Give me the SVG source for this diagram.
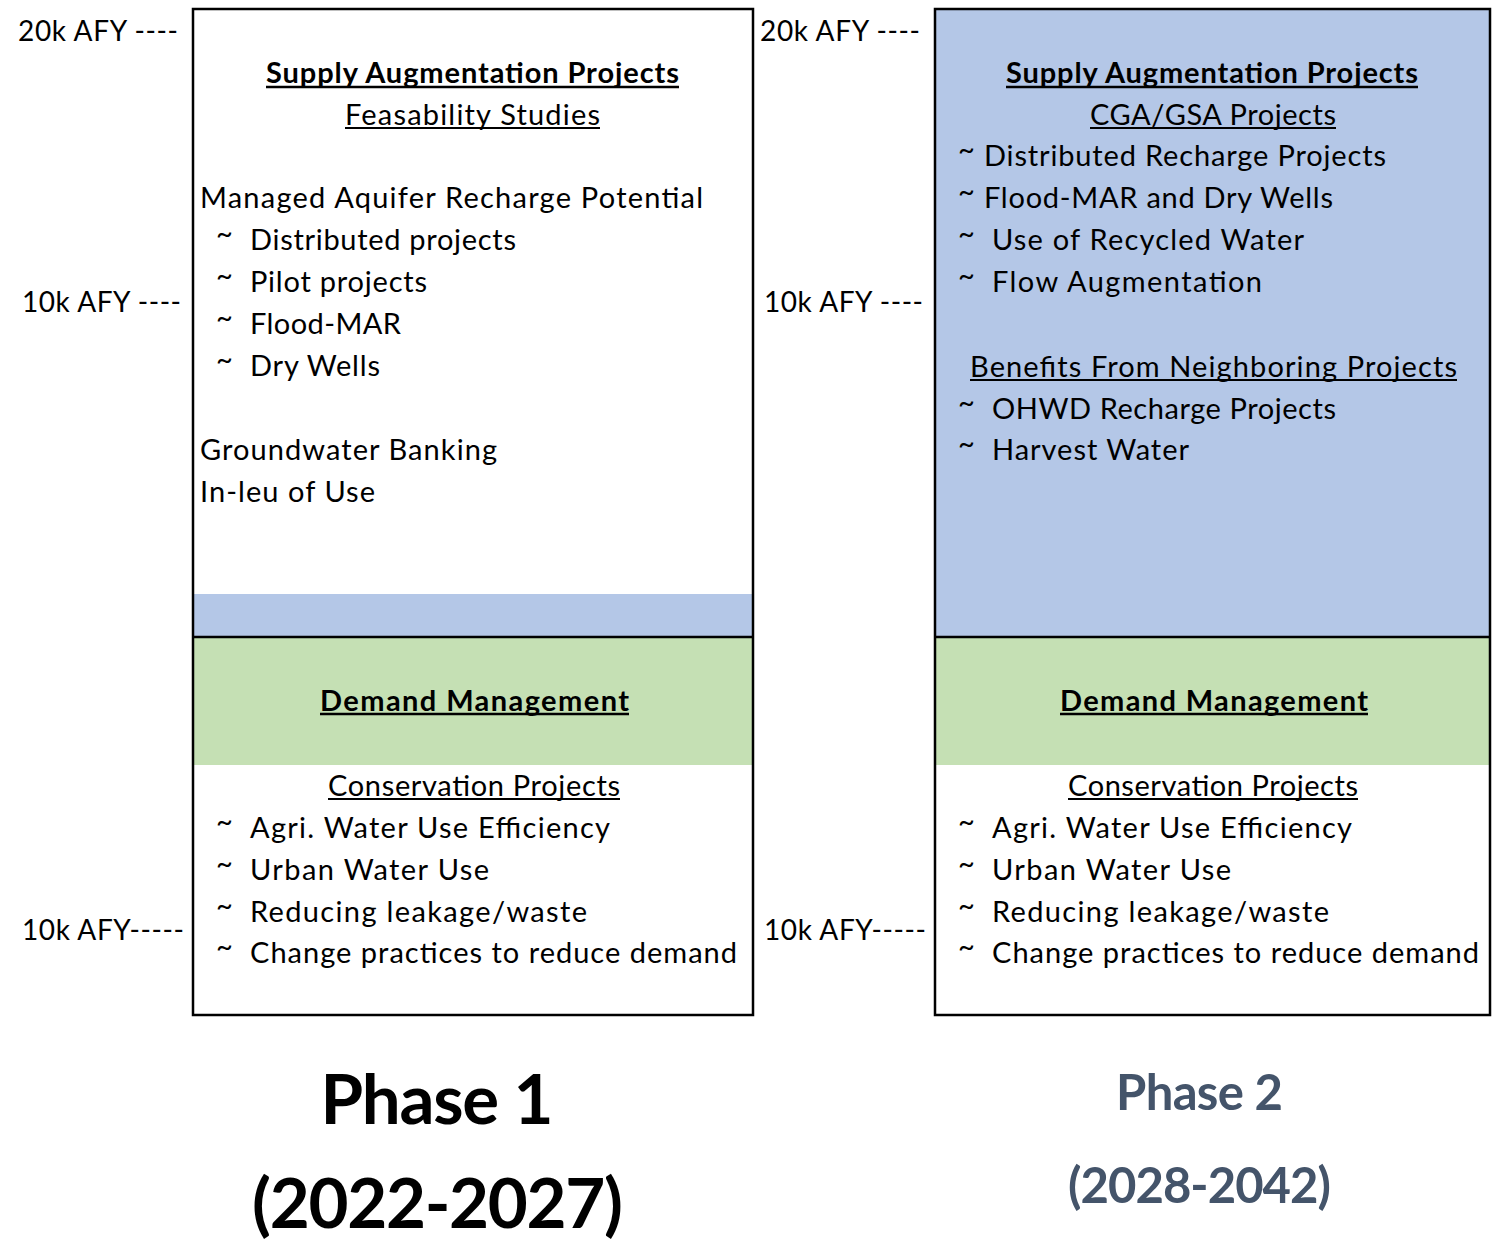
<svg xmlns="http://www.w3.org/2000/svg" width="1499" height="1241" viewBox="0 0 1499 1241">
<style>
text{font-family:Lato,"Open Sans",sans-serif;fill:#000}
.b{font-size:29px}
.t{font-size:29px}
.h{font-size:29px;font-weight:bold}
.u{font-size:29px}
.c{text-anchor:middle}
.lab{font-size:28px}
.p1{font-size:69px;font-weight:bold;text-anchor:middle}
.p2{font-size:49px;font-weight:bold;text-anchor:middle;fill:#44546A}
.box{fill:none;stroke:#000;stroke-width:2.5}
.ul{stroke:#000;stroke-width:1.8}
.ulb{stroke:#000;stroke-width:2.4}
</style>
<rect width="1499" height="1241" fill="#fff"/>
<g id="axis-left">
<text class="lab" x="18" y="41" textLength="160" lengthAdjust="spacing">20k AFY ----</text>
<text class="lab" x="22" y="312" textLength="159" lengthAdjust="spacing">10k AFY ----</text>
<text class="lab" x="22" y="940" textLength="162" lengthAdjust="spacing">10k AFY-----</text>
</g>
<g id="axis-right">
<text class="lab" x="760" y="41" textLength="160" lengthAdjust="spacing">20k AFY ----</text>
<text class="lab" x="764" y="312" textLength="159" lengthAdjust="spacing">10k AFY ----</text>
<text class="lab" x="764" y="940" textLength="162" lengthAdjust="spacing">10k AFY-----</text>
</g>
<g id="phase1">
<rect x="193" y="594" width="560" height="43" fill="#B4C7E7"/>
<rect x="193" y="637" width="560" height="128" fill="#C5E0B4"/>
<line x1="193" y1="637" x2="753" y2="637" stroke="#000" stroke-width="2.5"/>
<rect class="box" x="193" y="9" width="560" height="1006"/>
<text class="h c" x="472.5" y="83" textLength="413" lengthAdjust="spacing">Supply Augmentation Projects</text>
<line class="ulb" x1="266" y1="87" x2="679" y2="87"/>
<text class="u c" x="472.5" y="125" textLength="255" lengthAdjust="spacing">Feasability Studies</text>
<line class="ul" x1="345" y1="128" x2="600" y2="128"/>
<text class="b" x="200" y="208" textLength="503" lengthAdjust="spacing">Managed Aquifer Recharge Potential</text>
<text class="t" x="216" y="244">~</text><text class="b" x="250" y="250" textLength="266" lengthAdjust="spacing">Distributed projects</text>
<text class="t" x="216" y="286">~</text><text class="b" x="250" y="292" textLength="177" lengthAdjust="spacing">Pilot projects</text>
<text class="t" x="216" y="328">~</text><text class="b" x="250" y="334" textLength="151" lengthAdjust="spacing">Flood-MAR</text>
<text class="t" x="216" y="370">~</text><text class="b" x="250" y="376" textLength="130" lengthAdjust="spacing">Dry Wells</text>
<text class="b" x="200" y="460" textLength="297" lengthAdjust="spacing">Groundwater Banking</text>
<text class="b" x="200" y="502" textLength="175" lengthAdjust="spacing">In-leu of Use</text>
<text class="h c" x="474.5" y="711" textLength="309" lengthAdjust="spacing">Demand Management</text>
<line class="ulb" x1="320" y1="714" x2="629" y2="714"/>
<text class="u c" x="474" y="796" textLength="292" lengthAdjust="spacing">Conservation Projects</text>
<line class="ul" x1="328" y1="799" x2="620" y2="799"/>
<text class="t" x="216" y="832">~</text><text class="b" x="250" y="838" textLength="360" lengthAdjust="spacing">Agri. Water Use Efficiency</text>
<text class="t" x="216" y="874">~</text><text class="b" x="250" y="880" textLength="239" lengthAdjust="spacing">Urban Water Use</text>
<text class="t" x="216" y="916">~</text><text class="b" x="250" y="922" textLength="337" lengthAdjust="spacing">Reducing leakage/waste</text>
<text class="t" x="216" y="957">~</text><text class="b" x="250" y="963" textLength="487" lengthAdjust="spacing">Change practices to reduce demand</text>
<text class="p1" x="437" y="1124" textLength="233" lengthAdjust="spacing">Phase 1</text>
<text class="p1" x="437.5" y="1228" textLength="371" lengthAdjust="spacing">(2022-2027)</text>
</g>
<g id="phase2">
<rect x="935" y="9" width="555" height="628" fill="#B4C7E7"/>
<rect x="935" y="637" width="555" height="128" fill="#C5E0B4"/>
<line x1="935" y1="637" x2="1490" y2="637" stroke="#000" stroke-width="2.5"/>
<rect class="box" x="935" y="9" width="555" height="1006"/>
<text class="h c" x="1212" y="83" textLength="412" lengthAdjust="spacing">Supply Augmentation Projects</text>
<line class="ulb" x1="1006" y1="87" x2="1418" y2="87"/>
<text class="u c" x="1213" y="125" textLength="246" lengthAdjust="spacing">CGA/GSA Projects</text>
<line class="ul" x1="1090" y1="128" x2="1336" y2="128"/>
<text class="t" x="958" y="160">~</text><text class="b" x="984" y="166" textLength="402" lengthAdjust="spacing">Distributed Recharge Projects</text>
<text class="t" x="958" y="202">~</text><text class="b" x="984" y="208" textLength="349" lengthAdjust="spacing">Flood-MAR and Dry Wells</text>
<text class="t" x="958" y="244">~</text><text class="b" x="992" y="250" textLength="312" lengthAdjust="spacing">Use of Recycled Water</text>
<text class="t" x="958" y="286">~</text><text class="b" x="992" y="292" textLength="270" lengthAdjust="spacing">Flow Augmentation</text>
<text class="u c" x="1213.5" y="377" textLength="487" lengthAdjust="spacing">Benefits From Neighboring Projects</text>
<line class="ul" x1="970" y1="380" x2="1457" y2="380"/>
<text class="t" x="958" y="413">~</text><text class="b" x="992" y="419" textLength="344" lengthAdjust="spacing">OHWD Recharge Projects</text>
<text class="t" x="958" y="454">~</text><text class="b" x="992" y="460" textLength="197" lengthAdjust="spacing">Harvest Water</text>
<text class="h c" x="1214" y="711" textLength="308" lengthAdjust="spacing">Demand Management</text>
<line class="ulb" x1="1060" y1="714" x2="1368" y2="714"/>
<text class="u c" x="1213" y="796" textLength="290" lengthAdjust="spacing">Conservation Projects</text>
<line class="ul" x1="1068" y1="799" x2="1358" y2="799"/>
<text class="t" x="958" y="832">~</text><text class="b" x="992" y="838" textLength="360" lengthAdjust="spacing">Agri. Water Use Efficiency</text>
<text class="t" x="958" y="874">~</text><text class="b" x="992" y="880" textLength="239" lengthAdjust="spacing">Urban Water Use</text>
<text class="t" x="958" y="916">~</text><text class="b" x="992" y="922" textLength="337" lengthAdjust="spacing">Reducing leakage/waste</text>
<text class="t" x="958" y="957">~</text><text class="b" x="992" y="963" textLength="487" lengthAdjust="spacing">Change practices to reduce demand</text>
<text class="p2" x="1199.5" y="1110" textLength="167" lengthAdjust="spacing">Phase 2</text>
<text class="p2" x="1199.5" y="1203" textLength="263" lengthAdjust="spacing">(2028-2042)</text>
</g>
</svg>
